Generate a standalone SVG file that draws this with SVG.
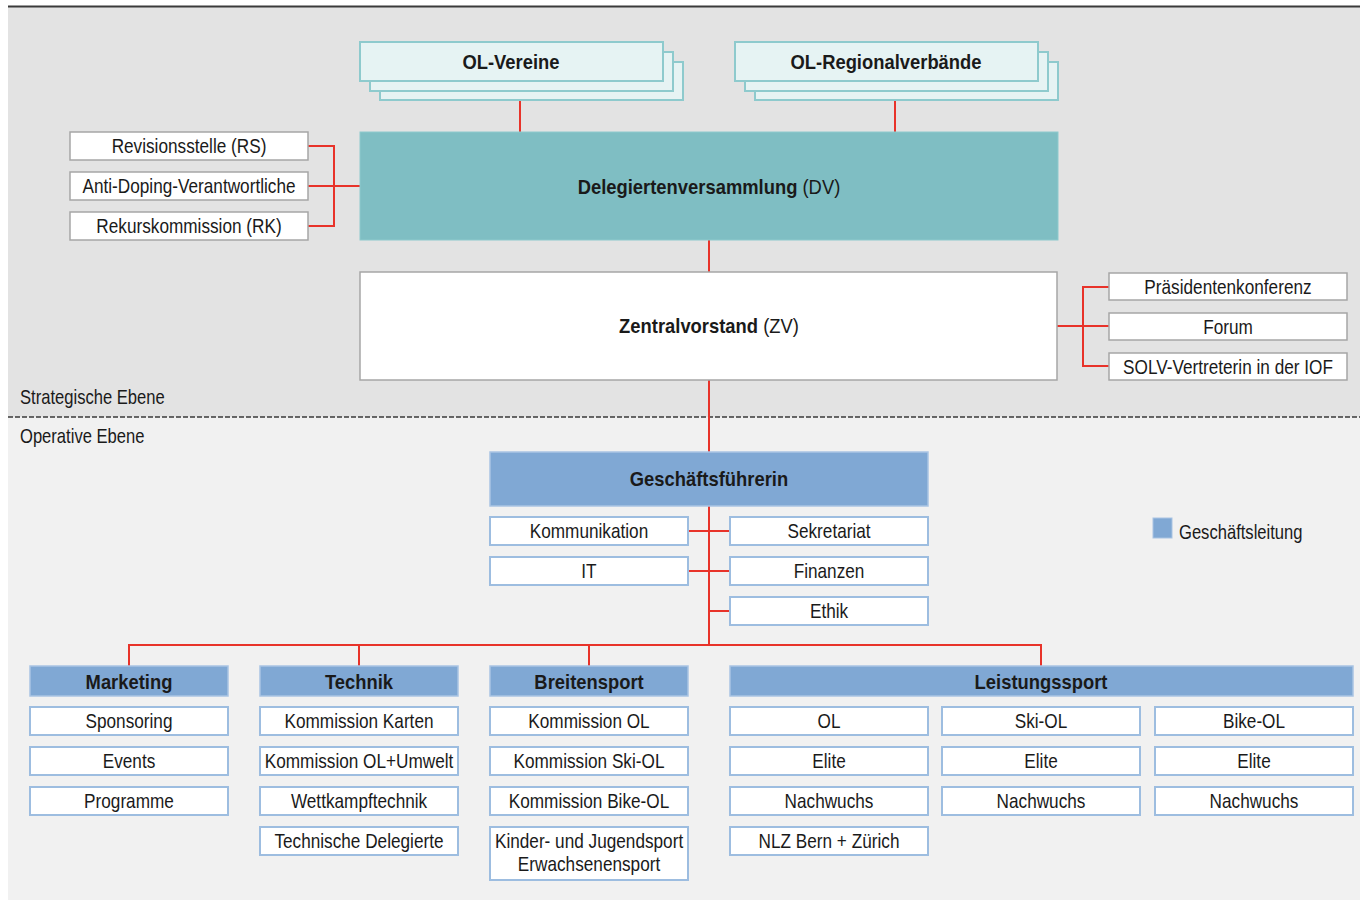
<svg xmlns="http://www.w3.org/2000/svg" width="1360" height="901" viewBox="0 0 1360 901">
<style>
text{font-family:"Liberation Sans",Arial,sans-serif;font-size:20px;fill:#1a1a1a;text-anchor:middle;transform-box:fill-box;transform-origin:center;transform:scaleX(0.86)}
text.b{font-weight:bold;transform:scaleX(0.92)}
.bt{font-weight:bold}
text.bw2{transform:scaleX(0.92)}
text.l{text-anchor:start;transform-origin:left center;transform:scaleX(0.83)}
.gw{fill:#fff;stroke:#a6a6a6;stroke-width:1.5}
.bw{fill:#fff;stroke:#9dbde0;stroke-width:2}
.bh{fill:#80a8d4;stroke:#a9c4e3;stroke-width:1.5}
.st{fill:#e6f3f3;stroke:#8ecacd;stroke-width:2}
.c{stroke:#e8332a;stroke-width:2;fill:none}
</style>
<rect x="0" y="0" width="1360" height="901" fill="#ffffff"/>
<rect x="8" y="7" width="1352" height="410" fill="#e3e3e3"/>
<rect x="8" y="417" width="1352" height="483" fill="#f1f1f1"/>
<line x1="8" y1="6.5" x2="1360" y2="6.5" stroke="#3a3a3a" stroke-width="2"/>
<line x1="8" y1="417" x2="1360" y2="417" stroke="#3a3a3a" stroke-width="1.5" stroke-dasharray="5,2"/>
<text class="l" x="20" y="404">Strategische Ebene</text>
<text class="l" x="20" y="443">Operative Ebene</text>

<g id="connectors">
<path class="c" d="M520 100V132M895 100V132"/>
<path class="c" d="M308 146H334V226H308M308 186H360"/>
<path class="c" d="M709 240V272"/>
<path class="c" d="M1057 326H1109M1109 287H1083V366H1109"/>
<path class="c" d="M709 380V452"/>
<path class="c" d="M709 506V645M688 531H730M688 571H730M709 611H730"/>
<path class="c" d="M129 666V645H1041V666M359 645V666M589 645V666"/>
</g>

<g id="ol-vereine">
<rect class="st" x="380" y="62" width="303" height="38"/>
<rect class="st" x="370" y="52" width="303" height="39"/>
<rect class="st" x="360" y="42" width="303" height="39"/>
<text class="b" x="511" y="69">OL-Vereine</text>
</g>
<g id="ol-regionalverbaende">
<rect class="st" x="755" y="62" width="303" height="38"/>
<rect class="st" x="745" y="52" width="303" height="39"/>
<rect class="st" x="735" y="42" width="303" height="39"/>
<text class="b" x="886" y="69">OL-Regionalverbände</text>
</g>

<g id="dv">
<rect x="360" y="132" width="698" height="108" fill="#7fbec3" stroke="#8ecacd" stroke-width="1"/>
<text class="bw2" x="709" y="194"><tspan class="bt">Delegiertenversammlung</tspan> (DV)</text>
</g>
<g id="rs"><rect class="gw" x="70" y="132" width="238" height="28"/><text x="189" y="153">Revisionsstelle (RS)</text></g>
<g id="ad"><rect class="gw" x="70" y="172" width="238" height="28"/><text x="189" y="193">Anti-Doping-Verantwortliche</text></g>
<g id="rk"><rect class="gw" x="70" y="212" width="238" height="28"/><text x="189" y="233">Rekurskommission (RK)</text></g>

<g id="zv">
<rect class="gw" x="360" y="272" width="697" height="108"/>
<text class="bw2" x="709" y="333"><tspan class="bt">Zentralvorstand</tspan> (ZV)</text>
</g>
<g id="pk"><rect class="gw" x="1109" y="273" width="238" height="27"/><text x="1228" y="294">Präsidentenkonferenz</text></g>
<g id="forum"><rect class="gw" x="1109" y="313" width="238" height="27"/><text x="1228" y="334">Forum</text></g>
<g id="solv"><rect class="gw" x="1109" y="353" width="238" height="27"/><text x="1228" y="374">SOLV-Vertreterin in der IOF</text></g>

<g id="gf">
<rect class="bh" x="490" y="452" width="438" height="54"/>
<text class="b" x="709" y="486">Geschäftsführerin</text>
</g>
<g id="kommunikation"><rect class="bw" x="490" y="517" width="198" height="28"/><text x="589" y="538">Kommunikation</text></g>
<g id="it"><rect class="bw" x="490" y="557" width="198" height="28"/><text x="589" y="578">IT</text></g>
<g id="sekretariat"><rect class="bw" x="730" y="517" width="198" height="28"/><text x="829" y="538">Sekretariat</text></g>
<g id="finanzen"><rect class="bw" x="730" y="557" width="198" height="28"/><text x="829" y="578">Finanzen</text></g>
<g id="ethik"><rect class="bw" x="730" y="597" width="198" height="28"/><text x="829" y="618">Ethik</text></g>

<g id="legend">
<rect x="1153" y="518" width="19" height="20" fill="#80a8d4" stroke="#a9c4e3" stroke-width="1"/>
<text class="l" x="1179" y="539">Geschäftsleitung</text>
</g>

<g id="marketing">
<rect class="bh" x="30" y="666" width="198" height="30"/><text class="b" x="129" y="689">Marketing</text>
<rect class="bw" x="30" y="707" width="198" height="28"/><text x="129" y="728">Sponsoring</text>
<rect class="bw" x="30" y="747" width="198" height="28"/><text x="129" y="768">Events</text>
<rect class="bw" x="30" y="787" width="198" height="28"/><text x="129" y="808">Programme</text>
</g>
<g id="technik">
<rect class="bh" x="260" y="666" width="198" height="30"/><text class="b" x="359" y="689">Technik</text>
<rect class="bw" x="260" y="707" width="198" height="28"/><text x="359" y="728">Kommission Karten</text>
<rect class="bw" x="260" y="747" width="198" height="28"/><text x="359" y="768">Kommission OL+Umwelt</text>
<rect class="bw" x="260" y="787" width="198" height="28"/><text x="359" y="808">Wettkampftechnik</text>
<rect class="bw" x="260" y="827" width="198" height="28"/><text x="359" y="848">Technische Delegierte</text>
</g>
<g id="breitensport">
<rect class="bh" x="490" y="666" width="198" height="30"/><text class="b" x="589" y="689">Breitensport</text>
<rect class="bw" x="490" y="707" width="198" height="28"/><text x="589" y="728">Kommission OL</text>
<rect class="bw" x="490" y="747" width="198" height="28"/><text x="589" y="768">Kommission Ski-OL</text>
<rect class="bw" x="490" y="787" width="198" height="28"/><text x="589" y="808">Kommission Bike-OL</text>
<rect class="bw" x="490" y="827" width="198" height="53"/><text x="589" y="848">Kinder- und Jugendsport</text><text x="589" y="871">Erwachsenensport</text>
</g>
<g id="leistungssport">
<rect class="bh" x="730" y="666" width="623" height="30"/><text class="b" x="1041" y="689">Leistungssport</text>
<rect class="bw" x="730" y="707" width="198" height="28"/><text x="829" y="728">OL</text>
<rect class="bw" x="730" y="747" width="198" height="28"/><text x="829" y="768">Elite</text>
<rect class="bw" x="730" y="787" width="198" height="28"/><text x="829" y="808">Nachwuchs</text>
<rect class="bw" x="730" y="827" width="198" height="28"/><text x="829" y="848">NLZ Bern + Zürich</text>
<rect class="bw" x="942" y="707" width="198" height="28"/><text x="1041" y="728">Ski-OL</text>
<rect class="bw" x="942" y="747" width="198" height="28"/><text x="1041" y="768">Elite</text>
<rect class="bw" x="942" y="787" width="198" height="28"/><text x="1041" y="808">Nachwuchs</text>
<rect class="bw" x="1155" y="707" width="198" height="28"/><text x="1254" y="728">Bike-OL</text>
<rect class="bw" x="1155" y="747" width="198" height="28"/><text x="1254" y="768">Elite</text>
<rect class="bw" x="1155" y="787" width="198" height="28"/><text x="1254" y="808">Nachwuchs</text>
</g>
</svg>
